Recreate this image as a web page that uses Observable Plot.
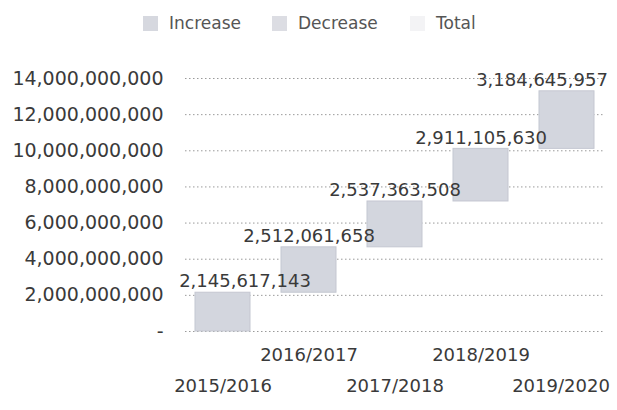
<!DOCTYPE html>
<html>
<head>
<meta charset="utf-8">
<script src="https://cdn.jsdelivr.net/npm/d3@7"></script>
<script src="https://cdn.jsdelivr.net/npm/@observablehq/plot@0.6"></script>
<style>
  body { margin: 0; background: #fff; font-family: "DejaVu Sans", sans-serif; }
  #legend { position: relative; height: 48px; width: 617px; color: #555; font-size: 17px; }
  .item { position: absolute; top: 13px; display: flex; align-items: center; }
  .sw { width: 15px; height: 15px; margin-right: 11px; }
</style>
</head>
<body>
<div id="legend"></div>
<div id="chart"></div>
<script>
const years = ["2015/2016", "2016/2017", "2017/2018", "2018/2019", "2019/2020"];
const increases = [2145617143, 2512061658, 2537363508, 2911105630, 3184645957];
const yTicks = [0, 2e9, 4e9, 6e9, 8e9, 10e9, 12e9, 14e9];
const legendLabels = ["Increase", "Decrease", "Total"];
const legendColors = ["#d6d8df", "#dcdde3", "#f3f3f5"];

// legend
const legendX = [143, 272, 410];
const lg = document.getElementById("legend");
legendLabels.forEach((lab, i) => {
  const it = document.createElement("div");
  it.className = "item";
  it.style.left = legendX[i] + "px";
  it.innerHTML = `<div class="sw" style="background:${legendColors[i]}"></div><span>${lab}</span>`;
  lg.appendChild(it);
});

let acc = 0;
const data = years.map((y, i) => {
  const start = acc;
  acc += increases[i];
  return {year: y, start, end: acc, value: increases[i], i};
});

const fmt = d3.format(",");
const textFill = "#3a3a3a";

const chart = Plot.plot({
  width: 617,
  height: 362,
  marginLeft: 185,
  marginRight: 12,
  marginTop: 30,
  marginBottom: 79,
  style: { fontFamily: "DejaVu Sans, sans-serif", fontSize: "19px", color: textFill, background: "#fff" },
  x: { domain: years, paddingInner: 0.36, paddingOuter: 0.12, axis: null },
  y: { domain: [0, 14e9], axis: null },
  marks: [
    Plot.ruleY(yTicks, { stroke: "#9a9a9a", strokeDasharray: "1.5,2.5", strokeWidth: 1 }),
    Plot.axisY({ ticks: yTicks, tickSize: 0, tickPadding: 22, fontSize: 19, fill: textFill,
      tickFormat: d => d === 0 ? "-" : fmt(d) }),
    Plot.barY(data, { x: "year", y1: "start", y2: "end", fill: "#d3d6de", stroke: "#c4c7d1", strokeWidth: 1 }),
    Plot.text(data.filter(d => d.i === 0), { x: "year", y: "end", text: d => fmt(d.value), dy: -11, dx: 22, fontSize: 18, fill: textFill }),
    Plot.text(data.filter(d => d.i > 0 && d.i < 4), { x: "year", y: "end", text: d => fmt(d.value), dy: -11, fontSize: 18, fill: textFill }),
    Plot.text(data.filter(d => d.i === 4), { x: "year", y: "end", text: d => fmt(d.value), dy: -11, dx: -25, fontSize: 18, fill: textFill }),
    Plot.text(data.filter(d => d.i % 2 === 1), { x: "year", frameAnchor: "bottom", dy: 29, text: "year", fontSize: 18, fill: textFill }),
    Plot.text(data.filter(d => d.i % 2 === 0 && d.i < 4), { x: "year", frameAnchor: "bottom", dy: 60, text: "year", fontSize: 18, fill: textFill }),
    Plot.text(data.filter(d => d.i === 4), { x: "year", frameAnchor: "bottom", dy: 60, dx: -6, text: "year", fontSize: 18, fill: textFill })
  ]
});
document.getElementById("chart").appendChild(chart);
</script>
</body>
</html>
